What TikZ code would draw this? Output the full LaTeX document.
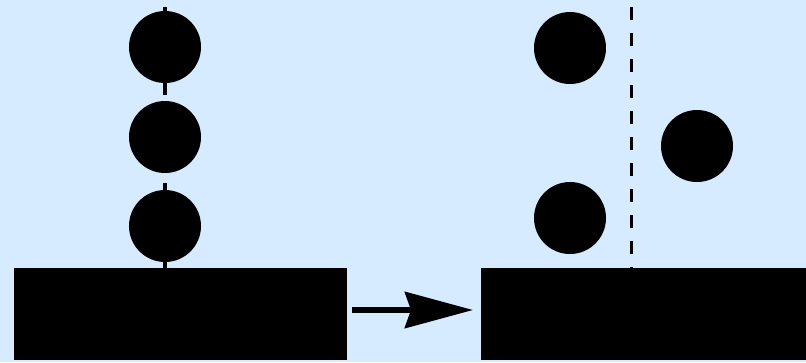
\documentclass[tikz,border=0pt]{standalone}
\usetikzlibrary{arrows.meta}
\definecolor{bgblue}{RGB}{214,235,255}
\begin{document}
\begin{tikzpicture}[x=1pt,y=-1pt,
  ball/.style={circle,fill=black,draw=none,minimum size=72pt,inner sep=0pt},
  block/.style={rectangle,fill=black,draw=none,inner sep=0pt,anchor=north west},
  stem/.style={line width=4pt,black},
  guide/.style={line width=3pt,black,dash pattern=on 13pt off 13pt},
  move/.style={line width=6pt,black,-{Stealth[length=68pt,width=36pt,inset=6pt]}}]
\fill[bgblue] (0,0) rectangle (806,362);
\useasboundingbox (0,0) rectangle (806,362);
% left
\node[block,minimum width=333pt,minimum height=92pt] (baseL) at (14,268) {};
\node[ball] (l1) at (165,47) {};
\node[ball] (l2) at (165,137) {};
\node[ball] (l3) at (165,226) {};
\coordinate (l1top) at (165,7);
\coordinate (l1bot) at (165,95);
\coordinate (l3top) at (165,183);
\draw[stem] (l1.north) -- (l1top);
\draw[stem] (l1.south) -- (l1bot);
\draw[stem] (l3.north) -- (l3top);
\draw[stem] (l3.south) -- (l3.south |- baseL.north);
% right
\node[block,minimum width=325pt,minimum height=92pt] (baseR) at (481,268) {};
\node[ball] (r1) at (570,48) {};
\node[ball] (r2) at (570,218) {};
\node[ball] (r3) at (697,146) {};
\coordinate (gtop) at (631,7);
\draw[guide] (gtop) -- (gtop |- baseR.north);
% arrow
\draw[move] (baseL.east |- 0,310) ++(5,0) coordinate (as) -- (473,310) coordinate (ae);
\end{tikzpicture}
\end{document}
